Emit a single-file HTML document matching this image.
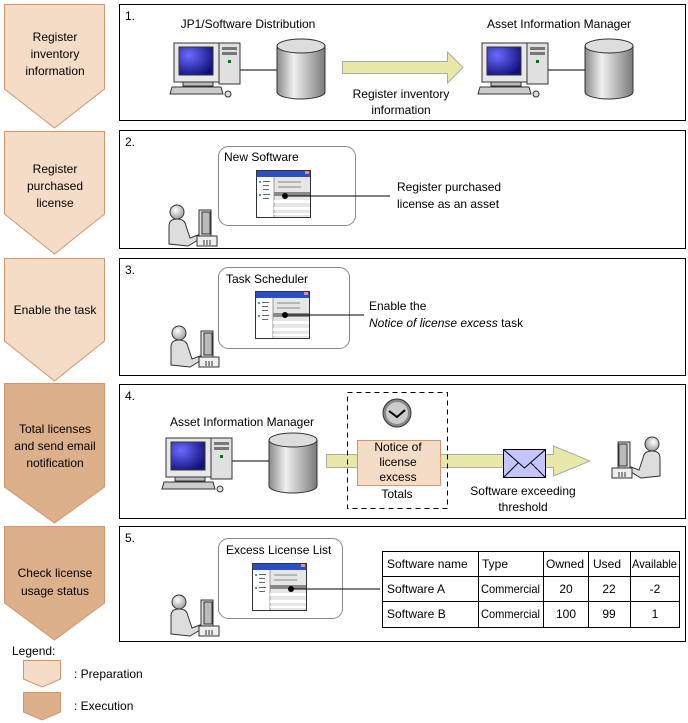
<!DOCTYPE html>
<html><head><meta charset="utf-8"><style>
body{margin:0;background:#fff}
svg{display:block}
text{font-family:"Liberation Sans",sans-serif;font-size:12px;fill:#000}
</style></head><body>
<svg width="688" height="723" viewBox="0 0 688 723" xmlns="http://www.w3.org/2000/svg">
<defs>
<linearGradient id="gcyl" x1="0" x2="1"><stop offset="0" stop-color="#8a8a8a"/><stop offset="0.35" stop-color="#f0f0f0"/><stop offset="1" stop-color="#7a7a7a"/></linearGradient>
<radialGradient id="scr" cx="0.3" cy="0.3" r="0.8"><stop offset="0" stop-color="#6a6aff"/><stop offset="1" stop-color="#10107a"/></radialGradient>
<radialGradient id="head" cx="0.4" cy="0.35" r="0.7"><stop offset="0" stop-color="#fff"/><stop offset="1" stop-color="#999"/></radialGradient>
<symbol id="pc" viewBox="0 0 72 56" width="72" height="56">
<rect x="5" y="1" width="45" height="39" fill="#e8e8e8" stroke="#333"/>
<rect x="10" y="5" width="34" height="28" fill="url(#scr)" stroke="#333"/>
<rect x="14" y="40" width="30" height="4" fill="#bbb" stroke="#333"/>
<rect x="50" y="1" width="21" height="41" fill="#e0e0e0" stroke="#333"/>
<rect x="53" y="5" width="15" height="3" fill="#777"/><rect x="53" y="10" width="15" height="3" fill="#777"/>
<rect x="59" y="18" width="3" height="3" fill="#070"/>
<path d="M3 45 L52 45 L54 52 L1 52 Z" fill="#ccc" stroke="#333"/>
<circle cx="59" cy="52" r="3" fill="#ddd" stroke="#333"/>
</symbol>
<symbol id="db" viewBox="0 0 50 62" width="50" height="62">
<path d="M1 8 L1 54 A24 7 0 0 0 49 54 L49 8" fill="url(#gcyl)" stroke="#333"/>
<ellipse cx="25" cy="8" rx="24" ry="7" fill="#ddd" stroke="#333"/>
</symbol>
<symbol id="win" viewBox="0 0 55 48" width="55" height="48">
<rect x="0.5" y="0.5" width="54" height="47" fill="#fff" stroke="#333"/>
<rect x="1" y="1" width="53" height="6" fill="#2a4fc8"/>
<rect x="49" y="1" width="4" height="3" fill="#e88"/>
<rect x="18" y="7" width="36" height="40" fill="#e6e6e6"/>
<line x1="18" y1="7" x2="18" y2="47" stroke="#999"/>
<rect x="3" y="11" width="2" height="2" fill="#39f"/><rect x="7" y="11" width="7" height="1" fill="#666"/>
<rect x="7" y="15" width="6" height="1" fill="#666"/><rect x="7" y="19" width="6" height="1" fill="#666"/>
<rect x="3" y="24" width="2" height="2" fill="#39f"/><rect x="7" y="24" width="7" height="1" fill="#666"/>
<rect x="7" y="28" width="6" height="1" fill="#666"/>
<line x1="22" y1="12" x2="45" y2="12" stroke="#888"/><line x1="22" y1="17" x2="45" y2="17" stroke="#888"/>
<rect x="18" y="22" width="36" height="4" fill="#888"/>
<rect x="18" y="30" width="36" height="3" fill="#fff"/><rect x="18" y="37" width="36" height="3" fill="#fff"/><rect x="18" y="43" width="36" height="2" fill="#fff"/>
</symbol>
<symbol id="user" viewBox="0 0 55 45" width="55" height="45">
<circle cx="11" cy="10" r="7" fill="url(#head)" stroke="#333"/>
<path d="M3 42 L3 24 Q3 17 11 17 Q19 17 20 24 L24 36 L32 33 L32 38 L22 44 Z" fill="#ddd" stroke="#333"/>
<rect x="33" y="8" width="12" height="26" fill="#ddd" stroke="#333"/>
<rect x="36" y="10" width="8" height="22" fill="#bbb" stroke="#333"/>
<rect x="31" y="34" width="20" height="10" fill="#eee" stroke="#333"/>
<line x1="38" y1="38" x2="38" y2="43" stroke="#333"/><line x1="41" y1="38" x2="41" y2="43" stroke="#333"/><line x1="44" y1="38" x2="44" y2="43" stroke="#333"/>
</symbol>
</defs>

<g stroke="#d4956a" stroke-width="1">
<path d="M4.5 4.5 H104.5 V89 L54.5 128 L4.5 89 Z" fill="#f5dcc7"/>
<path d="M4.5 131.5 H104.5 V214 L54.5 254 L4.5 214 Z" fill="#f5dcc7"/>
<path d="M4.5 258.5 H104.5 V341 L54.5 381 L4.5 341 Z" fill="#f5dcc7"/>
<path d="M4.5 383.5 H104.5 V487 L54.5 523 L4.5 487 Z" fill="#dcb08a"/>
<path d="M4.5 526.5 H104.5 V603 L54.5 640 L4.5 603 Z" fill="#dcb08a"/>
<path d="M23.5 660.5 H60.5 V679 L42 687 L23.5 679 Z" fill="#f5dcc7"/>
<path d="M23.5 692.5 H60.5 V712 L42 720 L23.5 712 Z" fill="#dcb08a"/>
</g>
<g text-anchor="middle">
<text x="55" y="41">Register</text><text x="55" y="58">inventory</text><text x="55" y="75">information</text>
<text x="55" y="173">Register</text><text x="55" y="190">purchased</text><text x="55" y="207">license</text>
<text x="55" y="314">Enable the task</text>
<text x="55" y="433">Total licenses</text><text x="55" y="450">and send email</text><text x="55" y="467">notification</text>
<text x="55" y="577">Check license</text><text x="55" y="595">usage status</text>
</g>
<text x="12" y="655">Legend:</text>
<text x="74" y="678">: Preparation</text>
<text x="74" y="710">: Execution</text>

<g fill="none" stroke="#000">
<rect x="119.5" y="4.5" width="566" height="116"/>
<rect x="119.5" y="130.5" width="566" height="118"/>
<rect x="119.5" y="258.5" width="566" height="117"/>
<rect x="119.5" y="384.5" width="566" height="134"/>
<rect x="119.5" y="526.5" width="566" height="115"/>
</g>
<text x="125" y="20">1.</text><text x="125" y="146">2.</text><text x="125" y="274">3.</text><text x="125" y="400">4.</text><text x="125" y="542">5.</text>

<text x="248" y="28" text-anchor="middle">JP1/Software Distribution</text>
<text x="559" y="28" text-anchor="middle">Asset Information Manager</text>
<line x1="240" y1="70" x2="277" y2="70" stroke="#000"/>
<use href="#pc" x="169" y="42"/>
<use href="#db" x="276" y="38"/>
<line x1="548" y1="70" x2="585" y2="70" stroke="#000"/>
<use href="#pc" x="477" y="42"/>
<use href="#db" x="584" y="38"/>
<path d="M342.5 61.5 H447.5 V52 L463 67.5 L447.5 83 V73.5 H342.5 Z" fill="#e8e8a8" stroke="#aaa"/>
<text x="401" y="98" text-anchor="middle">Register inventory</text>
<text x="401" y="114" text-anchor="middle">information</text>

<rect x="218.5" y="146.5" width="137" height="79" rx="10" fill="none" stroke="#888"/>
<text x="224" y="161" font-size="11.5">New Software</text>
<use href="#win" x="256" y="170"/>
<line x1="285" y1="196" x2="390" y2="196" stroke="#000"/>
<circle cx="285" cy="196" r="3" fill="#000"/>
<use href="#user" x="166" y="202"/>
<text x="397" y="191">Register purchased</text>
<text x="397" y="208">license as an asset</text>

<rect x="218.5" y="267.5" width="131" height="81" rx="10" fill="none" stroke="#888"/>
<text x="226" y="283" font-size="11.5">Task Scheduler</text>
<use href="#win" x="255" y="291"/>
<line x1="285" y1="315" x2="364" y2="315" stroke="#000"/>
<circle cx="285" cy="315" r="3" fill="#000"/>
<use href="#user" x="168" y="323"/>
<text x="369" y="310">Enable the</text>
<text x="369" y="327"><tspan font-style="italic">Notice of license excess</tspan> task</text>

<text x="242" y="426" text-anchor="middle">Asset Information Manager</text>
<path d="M326.5 454.5 H553.5 V446 L590 461 L553.5 476 V467.5 H326.5 Z" fill="#e8e8a8" stroke="#aaa"/>
<line x1="232" y1="461" x2="269" y2="461" stroke="#000"/>
<use href="#pc" x="161" y="437"/>
<use href="#db" x="268" y="432"/>
<rect x="357.5" y="440.5" width="83" height="45" fill="#f5dcc7" stroke="#d4956a"/>
<rect x="347.5" y="392.5" width="100" height="116" fill="none" stroke="#000" stroke-dasharray="5,4"/>
<circle cx="397" cy="413" r="14" fill="#888" stroke="#333"/>
<circle cx="397" cy="413" r="11" fill="#ccc"/>
<path d="M389 411 L397 417 L405 410" fill="none" stroke="#000" stroke-width="2"/>
<g text-anchor="middle"><text x="398" y="451">Notice of</text><text x="398" y="466">license</text><text x="398" y="481">excess</text><text x="397" y="498">Totals</text></g>
<rect x="503.5" y="449.5" width="42" height="28" fill="#c4c4ff" stroke="#000"/>
<path d="M503.5 449.5 L524.5 468 L545.5 449.5 M503.5 477.5 L518 463 M545.5 477.5 L531 463" fill="none" stroke="#000"/>
<text x="523" y="495" text-anchor="middle">Software exceeding</text>
<text x="523" y="511" text-anchor="middle">threshold</text>
<g transform="translate(663,434) scale(-1,1)"><use href="#user" x="0" y="0"/></g>

<rect x="218.5" y="538.5" width="124" height="80" rx="10" fill="none" stroke="#888"/>
<text x="226" y="554" font-size="11.5">Excess License List</text>
<use href="#win" x="252" y="563"/>
<line x1="291" y1="589" x2="380" y2="589" stroke="#000"/>
<circle cx="291" cy="589" r="3" fill="#000"/>
<use href="#user" x="168" y="592"/>
<g fill="none" stroke="#000">
<rect x="382.5" y="551.5" width="297" height="76"/>
<line x1="382" y1="576.5" x2="680" y2="576.5"/><line x1="382" y1="601.5" x2="680" y2="601.5"/>
<line x1="478.5" y1="551" x2="478.5" y2="628"/><line x1="543.5" y1="551" x2="543.5" y2="628"/>
<line x1="588.5" y1="551" x2="588.5" y2="628"/><line x1="630.5" y1="551" x2="630.5" y2="628"/>
</g>
<g font-size="11">
<text x="387" y="568">Software name</text><text x="482" y="568">Type</text><text x="546" y="568">Owned</text><text x="593" y="568">Used</text><text x="632" y="568" font-size="9" textLength="45" lengthAdjust="spacingAndGlyphs">Available</text>
<text x="387" y="593">Software A</text><text x="481" y="593" font-size="9.5" textLength="59" lengthAdjust="spacingAndGlyphs">Commercial</text><text x="566" y="593" text-anchor="middle">20</text><text x="609" y="593" text-anchor="middle">22</text><text x="655" y="593" text-anchor="middle">-2</text>
<text x="387" y="618">Software B</text><text x="481" y="618" font-size="9.5" textLength="59" lengthAdjust="spacingAndGlyphs">Commercial</text><text x="566" y="618" text-anchor="middle">100</text><text x="609" y="618" text-anchor="middle">99</text><text x="655" y="618" text-anchor="middle">1</text>
</g>
</svg>
</body></html>
